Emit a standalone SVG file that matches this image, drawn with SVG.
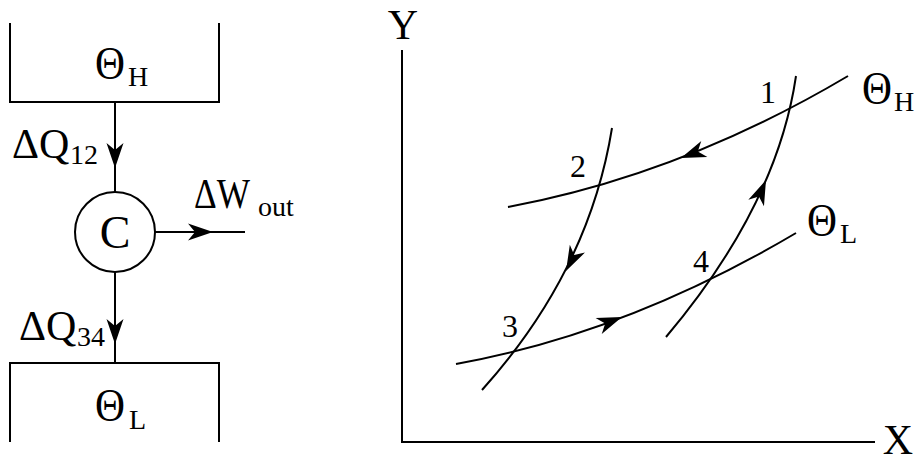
<svg xmlns="http://www.w3.org/2000/svg" xmlns:xlink="http://www.w3.org/1999/xlink" width="917" height="462" viewBox="0 0 917 462">
<style>
.ln{fill:none;stroke:#000;stroke-width:2}
.big{font-family:"Liberation Serif","Times New Roman",serif;font-size:42px;fill:#000}
.th{font-family:"Liberation Serif","Times New Roman",serif;font-size:46px;fill:#000}
.sub{font-family:"Liberation Serif","Times New Roman",serif;font-size:28px;fill:#000}
.num{font-family:"Liberation Serif","Times New Roman",serif;font-size:32px;fill:#000;text-anchor:middle}
</style>
<defs>
<path id="ah" d="M0,0 L-25,-8.5 L-18,0 L-25,8.5 Z" fill="#000"/>
</defs>
<rect width="917" height="462" fill="#fff"/>
<g id="hot-reservoir">
<path class="ln" d="M10,23 V102 H219 V23"/>
<text class="th" x="95" y="79" textLength="30" lengthAdjust="spacingAndGlyphs">Θ</text><text class="sub" x="128" y="86">H</text>
</g>
<g id="cold-reservoir">
<path class="ln" d="M10,442 V363 H219 V442"/>
<text class="th" x="95" y="421" textLength="30" lengthAdjust="spacingAndGlyphs">Θ</text><text class="sub" x="129" y="429">L</text>
</g>
<g id="engine">
<circle class="ln" cx="115" cy="232" r="40"/>
<text class="th" x="115" y="248" text-anchor="middle">C</text>
</g>
<g id="connectors">
<path class="ln" d="M115,102 V192"/>
<use xlink:href="#ah" transform="translate(115,168) rotate(90)"/>
<path class="ln" d="M115,272 V363"/>
<use xlink:href="#ah" transform="translate(115,344) rotate(90)"/>
<path class="ln" d="M155,232 H245"/>
<use xlink:href="#ah" transform="translate(213,232)"/>
</g>
<g id="flow-labels">
<text class="big" x="12" y="158">ΔQ</text><text class="sub" x="70" y="164">12</text>
<text class="big" x="194" y="208" textLength="56" lengthAdjust="spacingAndGlyphs">ΔW</text><text class="sub" x="258" y="216">out</text>
<text class="big" x="19" y="340">ΔQ</text><text class="sub" x="77" y="346">34</text>
</g>
<g id="axes">
<path class="ln" d="M402,50 V442 H875"/>
<text class="big" x="403" y="39" font-size="44" text-anchor="middle">Y</text>
<text class="big" x="898" y="454" font-size="43" text-anchor="middle">X</text>
</g>
<g id="isotherm-high">
<path class="ln" d="M508,207 Q682,174.5 848,76"/>
<use xlink:href="#ah" transform="translate(681,158) rotate(158.9)"/>
<text class="th" x="862" y="104" textLength="30" lengthAdjust="spacingAndGlyphs">Θ</text><text class="sub" x="894" y="111">H</text>
</g>
<g id="isotherm-low">
<path class="ln" d="M456,364 Q626,333.5 796,233"/>
<use xlink:href="#ah" transform="translate(622,317) rotate(-21.1)"/>
<text class="th" x="807" y="236" textLength="30" lengthAdjust="spacingAndGlyphs">Θ</text><text class="sub" x="840" y="243">L</text>
</g>
<g id="adiabat-23">
<path class="ln" d="M612,128 Q589,271 482,390"/>
<use xlink:href="#ah" transform="translate(566,271) rotate(117.1)"/>
</g>
<g id="adiabat-41">
<path class="ln" d="M796,76 Q777,205.5 666,337"/>
<use xlink:href="#ah" transform="translate(766,180) rotate(-66.8)"/>
</g>
<g id="state-labels">
<text class="num" x="768" y="103">1</text>
<text class="num" x="578" y="177">2</text>
<text class="num" x="510" y="337">3</text>
<text class="num" x="701" y="272">4</text>
</g>
</svg>
